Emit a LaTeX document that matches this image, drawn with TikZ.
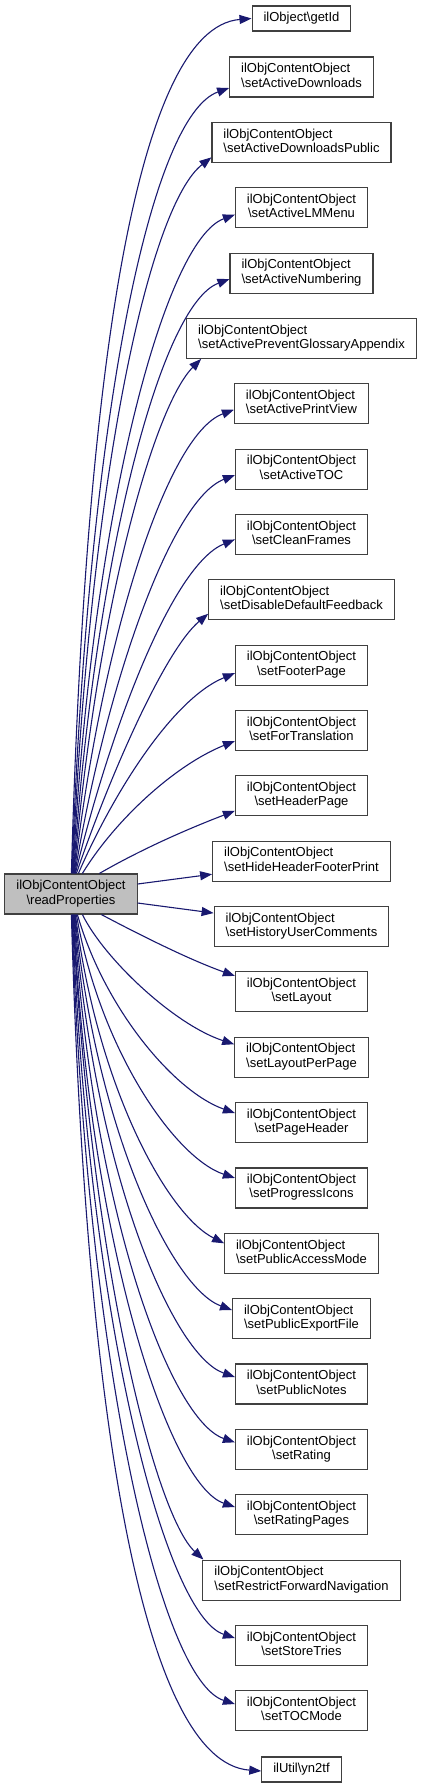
\documentclass[tikz,border=0pt]{standalone}
\usepackage{fontspec}
\setmainfont{Liberation Sans}
\usetikzlibrary{arrows.meta,calc}
\definecolor{edgec}{HTML}{191970}
\definecolor{boxc}{HTML}{404040}
\definecolor{mainfill}{HTML}{BFBFBF}
\newcommand\twol[2]{\begin{tabular}{@{}l@{}}#1\\\hspace*{\fill}\textbackslash #2\hspace*{\fill}\end{tabular}}
\newcommand\ioc[1]{\twol{ilObjContentObject}{#1}}
\begin{document}
\begin{tikzpicture}[x=1pt,y=-1pt,
  box/.style={draw=boxc,line width=1.1pt,fill=white,inner xsep=11.5pt,inner ysep=0pt,
    minimum height=40pt,font=\fontsize{13}{14.3}\selectfont,text=black},
  onebox/.style={box,minimum height=25pt},
  edge/.style={draw=edgec,line width=1.1pt,-{Triangle[length=12pt,width=9pt]}}]
\fill[white] (0,0) rectangle (423,1788);
\useasboundingbox (0,0) rectangle (423,1788);

\node[box,fill=mainfill,minimum width=132pt] (main) at (71,894) {\ioc{readProperties}};

\node[onebox] (t0) at (301.5,18.5) {ilObject\textbackslash getId};
\node[box] (t1) at (301.5,77) {\ioc{setActiveDownloads}};
\node[box] (t2) at (301.5,142.35) {\ioc{setActiveDownloadsPublic}};
\node[box] (t3) at (301.5,207.7) {\ioc{setActiveLMMenu}};
\node[box] (t4) at (301.5,273.05) {\ioc{setActiveNumbering}};
\node[box] (t5) at (301.5,338.4) {\ioc{setActivePreventGlossaryAppendix}};
\node[box] (t6) at (301.5,403.75) {\ioc{setActivePrintView}};
\node[box] (t7) at (301.5,469.1) {\ioc{setActiveTOC}};
\node[box] (t8) at (301.5,534.45) {\ioc{setCleanFrames}};
\node[box] (t9) at (301.5,599.8) {\ioc{setDisableDefaultFeedback}};
\node[box] (t10) at (301.5,665.15) {\ioc{setFooterPage}};
\node[box] (t11) at (301.5,730.5) {\ioc{setForTranslation}};
\node[box] (t12) at (301.5,795.85) {\ioc{setHeaderPage}};
\node[box] (t13) at (301.5,861.2) {\ioc{setHideHeaderFooterPrint}};
\node[box] (t14) at (301.5,926.55) {\ioc{setHistoryUserComments}};
\node[box] (t15) at (301.5,991.9) {\ioc{setLayout}};
\node[box] (t16) at (301.5,1057.25) {\ioc{setLayoutPerPage}};
\node[box] (t17) at (301.5,1122.6) {\ioc{setPageHeader}};
\node[box] (t18) at (301.5,1187.95) {\ioc{setProgressIcons}};
\node[box] (t19) at (301.5,1253.3) {\ioc{setPublicAccessMode}};
\node[box] (t20) at (301.5,1318.65) {\ioc{setPublicExportFile}};
\node[box] (t21) at (301.5,1384) {\ioc{setPublicNotes}};
\node[box] (t22) at (301.5,1449.35) {\ioc{setRating}};
\node[box] (t23) at (301.5,1514.7) {\ioc{setRatingPages}};
\node[box] (t24) at (301.5,1580.05) {\ioc{setRestrictForwardNavigation}};
\node[box] (t25) at (301.5,1645.4) {\ioc{setStoreTries}};
\node[box] (t26) at (301.5,1710.75) {\ioc{setTOCMode}};
\node[onebox] (t27) at (301.5,1769.5) {ilUtil\textbackslash yn2tf};

% upper edges
\draw[edge] ([xshift=67pt]main.north west) .. controls (85,380) and (135,28) .. (t0.west);
\draw[edge] ([xshift=67.5pt]main.north west) .. controls (88,420) and (150,116) .. ($(t1.west)+(0,11)$);
\draw[edge] ([xshift=68pt]main.north west) .. controls (90,470) and (150,205) .. ($(t2.west)+(0,15)$);
\draw[edge] ([xshift=68.5pt]main.north west) .. controls (92,510) and (165,240) .. ($(t3.west)+(0,7)$);
\draw[edge] ([xshift=69pt]main.north west) .. controls (95,560) and (160,305) .. ($(t4.west)+(0,6)$);
\draw[edge] ([xshift=69.5pt]main.north west) .. controls (98,600) and (155,405) .. ($(t5.south west)+(15,0)$);
\draw[edge] ([xshift=70pt]main.north west) .. controls (100,650) and (165,435) .. ($(t6.west)+(0,6)$);
\draw[edge] ([xshift=70.5pt]main.north west) .. controls (105,690) and (170,500) .. ($(t7.west)+(0,6)$);
\draw[edge] ([xshift=71pt]main.north west) .. controls (110,730) and (172,565) .. ($(t8.west)+(0,5)$);
\draw[edge] ([xshift=72pt]main.north west) .. controls (110,775) and (165,650) .. ($(t9.west)+(0,14)$);
\draw[edge] ([xshift=74pt]main.north west) .. controls (110,800) and (170,700) .. ($(t10.west)+(0,8)$);
\draw[edge] ([xshift=78pt]main.north west) .. controls (115,820) and (175,765) .. ($(t11.west)+(0,10.5)$);
\draw[edge] ([xshift=95pt]main.north west) .. controls (140,850) and (185,830) .. ($(t12.west)+(0,15)$);
% side edges
\draw[edge] ($(main.east)+(0,-10)$) -- ($(t13.west)+(0,13)$);
\draw[edge] ($(main.east)+(0,9)$) -- ($(t14.west)+(0,-13.5)$);
% lower edges
\draw[edge] ([xshift=97pt]main.south west) .. controls (140,935) and (190,960) .. ($(t15.west)+(0,-16)$);
\draw[edge] ([xshift=78pt]main.south west) .. controls (105,960) and (175,1025) .. ($(t16.west)+(0,-13)$);
\draw[edge] ([xshift=73pt]main.south west) .. controls (105,1010) and (175,1092) .. ($(t17.west)+(0,-9.6)$);
\draw[edge] ([xshift=72pt]main.south west) .. controls (100,1050) and (175,1158) .. ($(t18.west)+(0,-10)$);
\draw[edge] ([xshift=71pt]main.south west) .. controls (98,1090) and (168,1215) .. ($(t19.west)+(0,-10)$);
\draw[edge] ([xshift=70.5pt]main.south west) .. controls (96,1130) and (172,1288) .. ($(t20.west)+(0,-8.6)$);
\draw[edge] ([xshift=70pt]main.south west) .. controls (94,1170) and (172,1355) .. ($(t21.west)+(0,-7)$);
\draw[edge] ([xshift=69.5pt]main.south west) .. controls (92,1210) and (170,1420) .. ($(t22.west)+(0,-7)$);
\draw[edge] ([xshift=69pt]main.south west) .. controls (90,1250) and (170,1485) .. ($(t23.west)+(0,-7.7)$);
\draw[edge] ([xshift=68.5pt]main.south west) .. controls (90,1260) and (155,1515) .. ($(t24.north west)+(1,0)$);
\draw[edge] ([xshift=68pt]main.south west) .. controls (88,1320) and (165,1615) .. ($(t25.west)+(0,-7.4)$);
\draw[edge] ([xshift=67.5pt]main.south west) .. controls (86,1360) and (160,1680) .. ($(t26.west)+(0,-6.75)$);
\draw[edge] ([xshift=67pt]main.south west) .. controls (85,1400) and (140,1762) .. ($(t27.west)+(0,1.5)$);
\end{tikzpicture}
\end{document}
